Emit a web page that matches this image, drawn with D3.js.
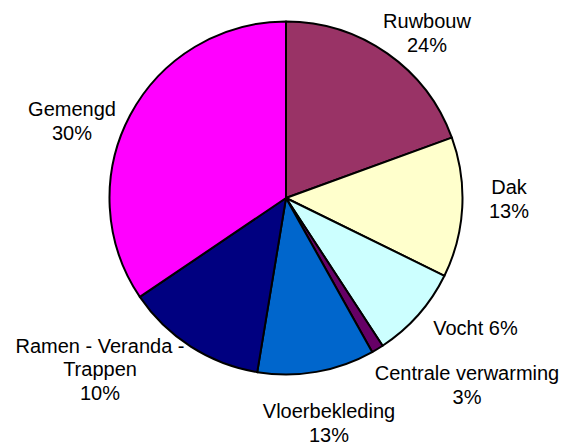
<!DOCTYPE html>
<html>
<head>
<meta charset="utf-8">
<script src="https://cdn.jsdelivr.net/npm/d3@7/dist/d3.min.js"></script>
<style>
html,body{margin:0;padding:0;background:#fff;}
svg{display:block;}
text{font-family:"Liberation Sans",Arial,sans-serif;font-size:20px;fill:#000;}
</style>
</head>
<body>
<svg id="chart" width="567" height="445"></svg>
<script>
// Data
const categories = ["Ruwbouw","Dak","Vocht","Centrale verwarming","Vloerbekleding","Ramen - Veranda - Trappen","Gemengd"];
const values = [19.4, 12.8, 8.5, 1.1, 10.7, 12.9, 34.4];
const percentLabels = ["24%","13%","6%","3%","13%","10%","30%"];
const colors = ["#993366","#FFFFCC","#CCFFFF","#660066","#0066CC","#000080","#FF00FF"];

// label text lines (derived from categories + printed percentages)
const labelLines = [
  [categories[0], percentLabels[0]],
  [categories[1], percentLabels[1]],
  [categories[2] + " " + percentLabels[2]],
  [categories[3], percentLabels[3]],
  [categories[4], percentLabels[4]],
  ["Ramen - Veranda -", "Trappen", percentLabels[5]],
  [categories[6], percentLabels[6]]
];
// layout: label block centers
const labelCenters = [[427,33],[509,199],[475.5,328],[467,385],[329,423],[100,369],[72,121]];

const svg = d3.select("#chart");
const cx = 286, cy = 198, R = 176.5;
const lineH = 23.5;

const pie = d3.pie().sort(null).value(d => d).startAngle(0).endAngle(2*Math.PI);
const arcs = pie(values);
const arc = d3.arc().innerRadius(0).outerRadius(R);

// labels (drawn first so the pie overlaps the trailing dash as in original)
const lg = svg.append("g");
labelLines.forEach((lines, i) => {
  const [x, y] = labelCenters[i];
  const n = lines.length;
  // visual center: cap height ~14px
  const firstBaseline = y - ((n - 1) * lineH) / 2 + 7;
  const t = lg.append("text").attr("text-anchor", "middle");
  lines.forEach((s, j) => {
    t.append("tspan").attr("x", x).attr("y", firstBaseline + j * lineH).text(s);
  });
});

const g = svg.append("g").attr("transform", `translate(${cx},${cy})`);
g.selectAll("path")
  .data(arcs)
  .join("path")
  .attr("d", arc)
  .attr("fill", (d, i) => colors[i])
  .attr("stroke", "#000")
  .attr("stroke-width", 2)
  .attr("stroke-linejoin", "round");
</script>
</body>
</html>
